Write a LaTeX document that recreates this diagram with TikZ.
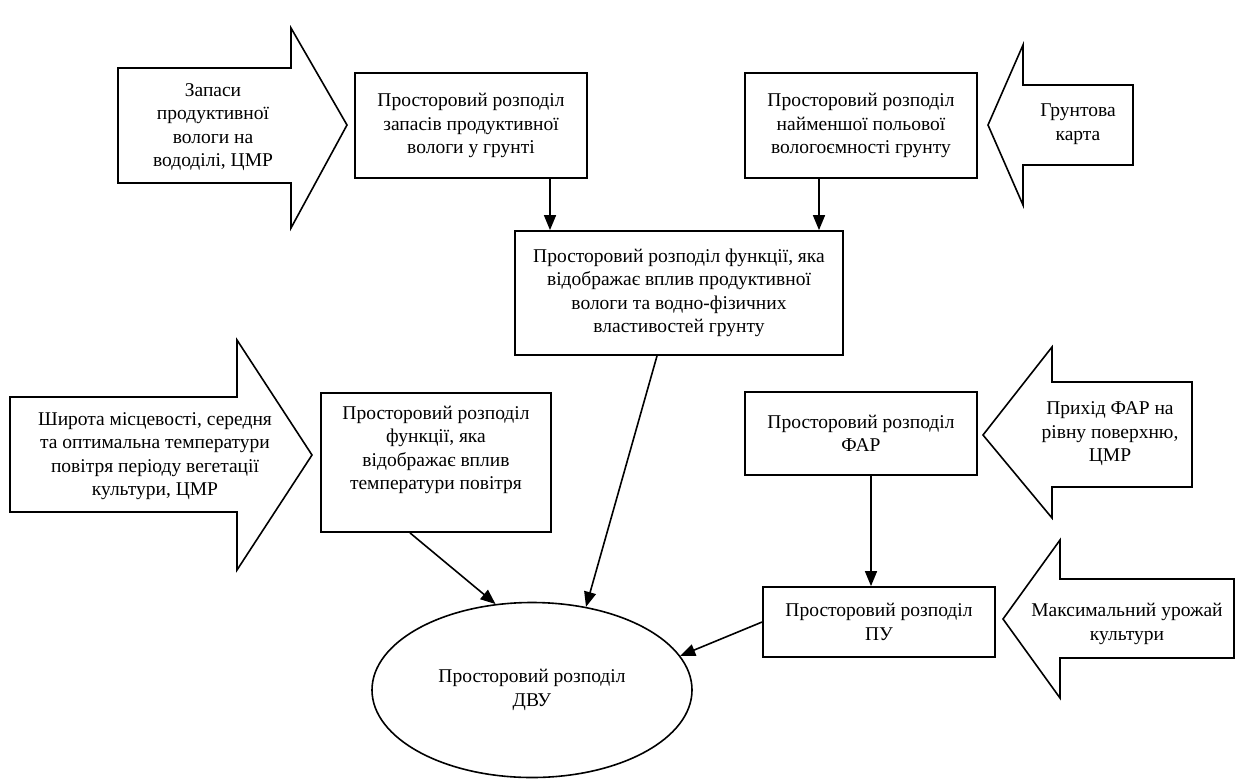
\documentclass[tikz,border=0pt]{standalone}
\usepackage{fontspec}
\setmainfont{Liberation Serif}
\usetikzlibrary{shapes}
\usetikzlibrary{shapes.geometric}
\usetikzlibrary{positioning}
\usetikzlibrary{arrows.meta}
\tikzset{
    mybox/.style = {rectangle, draw=black, line width=1.8pt, align=center, minimum width=232pt},
    myellipse/.style = {ellipse, draw=black, line width=1.6pt, align=center, minimum width=320pt, minimum height=175pt},
    arrowtext/.style = {align=center, inner sep=0pt},
    bigarrow/.style = {draw=black, line width=1.6pt, line join=miter},
    edgen/.style = {-{Triangle[length=15pt,width=12pt]}, line width=1.6pt},
    every node/.style = {font=\fontsize{19.5}{23.5}\selectfont}
}

\begin{document}
\begin{tikzpicture}[x=1pt, y=-1pt]
  \useasboundingbox (0,0) rectangle (1237,780);

  % blocks
  \node[mybox, minimum height=105pt] (rozpZapasiv) at (471,125.5)
    {Просторовий розподіл\\запасів продуктивної\\вологи у грунті};
  \node[mybox, minimum height=105pt] (rozpVolohoemn) at (861,125.5)
    {Просторовий розподіл\\найменшої польової\\вологоємності грунту};
  \node[mybox, minimum width=328pt, minimum height=124pt] (rozpFunkVolohy) at (679,293)
    {Просторовий розподіл функції, яка\\відображає вплив продуктивної\\вологи та водно-фізичних\\властивостей грунту};
  \node[mybox, minimum width=230pt, minimum height=139pt] (rozpFunkTemp) at (436,462.5)
    {Просторовий розподіл\\функції, яка\\відображає вплив\\температури повітря\\[6pt]};
  \node[mybox, minimum height=83pt] (rozpFAR) at (861,433.5)
    {Просторовий розподіл\\ФАР};
  \node[mybox, minimum height=70pt] (rozpPU) at (879,622)
    {Просторовий розподіл\\ПУ};
  \node[myellipse] (rozpDVU) at (532,690)
    {Просторовий розподіл\\ДВУ};

  % input arrows
  \draw[bigarrow] (118,68) -- (291,68) -- (291,28) -- (347,125) -- (291,228) -- (291,183) -- (118,183) -- cycle;
  \node[arrowtext] (zapasy) at (213,127) {Запаси\\продуктивної\\вологи на\\вододілі, ЦМР};

  \draw[bigarrow] (10,397) -- (237,397) -- (237,340) -- (312,455) -- (237,570) -- (237,512) -- (10,512) -- cycle;
  \node[arrowtext] (shyrota) at (155,456) {Широта місцевості, середня\\та оптимальна температури\\повітря періоду вегетації\\культури, ЦМР};

  \draw[bigarrow] (988,125) -- (1023,45) -- (1023,85) -- (1133,85) -- (1133,165) -- (1023,165) -- (1023,205) -- cycle;
  \node[arrowtext] (grunt) at (1078,124) {Грунтова\\карта};

  \draw[bigarrow] (983,435) -- (1052,347) -- (1052,382) -- (1192,382) -- (1192,487) -- (1052,487) -- (1052,518) -- cycle;
  \node[arrowtext] (prykhid) at (1110,434) {Прихід ФАР на\\рівну поверхню,\\ЦМР};

  \draw[bigarrow] (1003,619) -- (1060,540) -- (1060,579) -- (1234,579) -- (1234,658) -- (1060,658) -- (1060,698) -- cycle;
  \node[arrowtext] (maksUrozhai) at (1127,624) {Максимальний урожай\\культури};

  % links
  \draw[edgen] ([xshift=79pt]rozpZapasiv.south) -- ([xshift=79pt]rozpZapasiv.south |- rozpFunkVolohy.north);
  \draw[edgen] ([xshift=-42pt]rozpVolohoemn.south) -- ([xshift=-42pt]rozpVolohoemn.south |- rozpFunkVolohy.north);
  \draw[edgen] ([xshift=10pt]rozpFAR.south) -- ([xshift=10pt]rozpFAR.south |- rozpPU.north);
  \draw[edgen] ([xshift=-22pt]rozpFunkVolohy.south) -- (rozpDVU.57);
  \draw[edgen] ([xshift=-26pt]rozpFunkTemp.south) -- (rozpDVU.113);
  \draw[edgen] (rozpPU.west) -- (rozpDVU.13);

\end{tikzpicture}
\end{document}
